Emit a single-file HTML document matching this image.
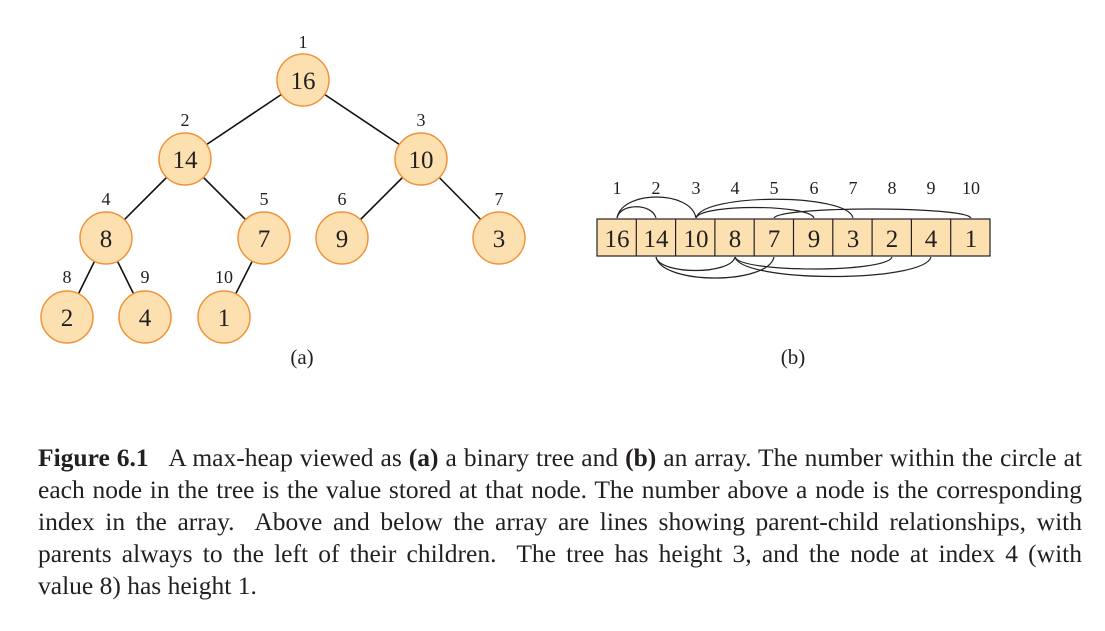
<!DOCTYPE html>
<html><head><style>
body{margin:0;background:#fff;width:1105px;height:631px;overflow:hidden;position:relative}
.l{position:absolute;left:38px;width:1044px;font:25.5px "Liberation Serif",serif;color:#231f20;text-align:justify;text-align-last:justify;white-space:nowrap;line-height:1}
</style></head><body>
<svg width="1105" height="631" style="position:absolute;left:0;top:0" font-family="Liberation Serif,serif" fill="#231f20">
<g stroke="#111" stroke-width="1.6">
<line x1="303" y1="80" x2="185" y2="159"/><line x1="303" y1="80" x2="421" y2="159"/>
<line x1="185" y1="159" x2="106" y2="238"/><line x1="185" y1="159" x2="264" y2="238"/>
<line x1="421" y1="159" x2="342" y2="238"/><line x1="421" y1="159" x2="499" y2="238"/>
<line x1="106" y1="238" x2="67" y2="317"/><line x1="106" y1="238" x2="145" y2="317"/>
<line x1="264" y1="238" x2="224" y2="317"/>
</g>
<g fill="#fde0b0" stroke="#f0923a" stroke-width="1.5">
<circle cx="303" cy="80" r="26"/><circle cx="185" cy="159" r="26"/><circle cx="421" cy="159" r="26"/>
<circle cx="106" cy="238" r="26"/><circle cx="264" cy="238" r="26"/><circle cx="342" cy="238" r="26"/><circle cx="499" cy="238" r="26"/>
<circle cx="67" cy="317" r="26"/><circle cx="145" cy="317" r="26"/><circle cx="224" cy="317" r="26"/>
</g>
<g font-size="25" text-anchor="middle">
<text x="303" y="89">16</text><text x="185" y="168">14</text><text x="421" y="168">10</text>
<text x="106" y="247">8</text><text x="264" y="247">7</text><text x="342" y="247">9</text><text x="499" y="247">3</text>
<text x="67" y="326">2</text><text x="145" y="326">4</text><text x="224" y="326">1</text>
</g>
<g font-size="18" text-anchor="middle">
<text x="303" y="48">1</text><text x="185" y="126">2</text><text x="421" y="126">3</text>
<text x="106" y="205">4</text><text x="264" y="205">5</text><text x="342" y="205">6</text><text x="499" y="205">7</text>
<text x="67" y="283">8</text><text x="145" y="283">9</text><text x="224" y="283">10</text>
<text x="302" y="364" font-size="21">(a)</text><text x="793" y="364" font-size="21">(b)</text>
<text x="617" y="194">1</text><text x="656" y="194">2</text><text x="696" y="194">3</text><text x="735" y="194">4</text><text x="774" y="194">5</text><text x="814" y="194">6</text><text x="853" y="194">7</text><text x="892" y="194">8</text><text x="931" y="194">9</text><text x="971" y="194">10</text>
</g>
<rect x="597" y="219" width="393" height="37" fill="#fde0b0" stroke="#222" stroke-width="1.2"/>
<g stroke="#222" stroke-width="1.2">
<line x1="636.3" y1="219" x2="636.3" y2="256"/><line x1="675.6" y1="219" x2="675.6" y2="256"/><line x1="714.9" y1="219" x2="714.9" y2="256"/><line x1="754.2" y1="219" x2="754.2" y2="256"/><line x1="793.5" y1="219" x2="793.5" y2="256"/><line x1="832.8" y1="219" x2="832.8" y2="256"/><line x1="872.1" y1="219" x2="872.1" y2="256"/><line x1="911.4" y1="219" x2="911.4" y2="256"/><line x1="950.7" y1="219" x2="950.7" y2="256"/>
</g>
<g font-size="25" text-anchor="middle">
<text x="617" y="247">16</text><text x="656" y="247">14</text><text x="696" y="247">10</text><text x="735" y="247">8</text><text x="774" y="247">7</text><text x="814" y="247">9</text><text x="853" y="247">3</text><text x="892" y="247">2</text><text x="931" y="247">4</text><text x="971" y="247">1</text>
</g>
<g fill="none" stroke="#222" stroke-width="1.2">
<path d="M617 218 C620 203 652 203 656 218"/>
<path d="M617 218 C622 190 691 190 696 218"/>
<path d="M696 218 C700 204 809 204 814 218"/>
<path d="M696 218 C702 193 848 193 853 218"/>
<path d="M774 218 C780 206 965 206 971 218"/>
<path d="M656 257 C660 275 731 275 735 257"/>
<path d="M656 257 C662 285 768 285 774 257"/>
<path d="M735 257 C740 273 887 273 892 257"/>
<path d="M735 257 C742 283 924 283 931 257"/>
</g>
</svg>
<div class="l" style="top:445px"><b>Figure 6.1</b>&nbsp;&nbsp; A max-heap viewed as <b>(a)</b> a binary tree and <b>(b)</b> an array. The number within the circle at</div>
<div class="l" style="top:477px">each node in the tree is the value stored at that node. The number above a node is the corresponding</div>
<div class="l" style="top:509px">index in the array.&nbsp; Above and below the array are lines showing parent-child relationships, with</div>
<div class="l" style="top:541px">parents always to the left of their children.&nbsp; The tree has height 3, and the node at index 4 (with</div>
<div class="l" style="top:573px;text-align-last:left">value 8) has height 1.</div>
</body></html>
